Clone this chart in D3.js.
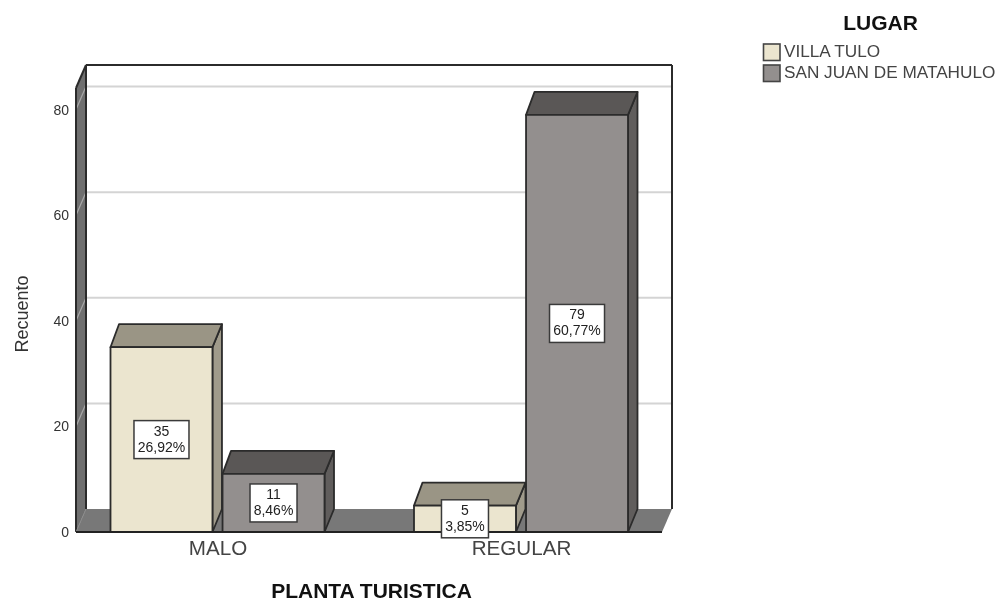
<!DOCTYPE html>
<html>
<head>
<meta charset="utf-8">
<script src="https://cdn.jsdelivr.net/npm/d3@7"></script>
<style>
html,body{margin:0;padding:0;background:#fff;}
svg{display:block;filter:blur(0.45px);}
text{font-family:"Liberation Sans",Arial,sans-serif;}
</style>
</head>
<body>
<svg id="chart" width="1000" height="601"></svg>
<script>
const categories = ["MALO", "REGULAR"];
const series = ["VILLA TULO", "SAN JUAN DE MATAHULO"];
const villaTulo = [35, 5];
const sanJuan = [11, 79];
const villaPct = ["26,92%", "3,85%"];
const sanPct = ["8,46%", "60,77%"];
const yTicks = [0, 20, 40, 60, 80];

const faceColors = ["#ebe5cf", "#938f8e"];
const topColors = ["#9a9585", "#5a5756"];
const sideColors = ["#a09b8b", "#605d5c"];
const line = "#2b2b2b";
const wallGray = "#787878";
const depthX = 10, depthY = 23;

const svg = d3.select("#chart");
const y = d3.scaleLinear().domain([0, 80]).range([532, 109.6]);
const x0 = d3.scalePoint().domain(categories).range([217.5, 521]);
const x1 = d3.scaleBand().domain(series).range([-107, 107]).paddingInner(0.09);

const left = 76, right = 662, top0 = 88;
const poly = (pts, fill, stroke, sw) => svg.append("polygon")
  .attr("points", pts.map(p => p.join(",")).join(" "))
  .attr("fill", fill).attr("stroke", stroke || "none").attr("stroke-width", sw || 0)
  .attr("stroke-linejoin", "round");

// back wall
poly([[left+depthX, top0-depthY],[right+depthX, top0-depthY],[right+depthX, y(0)-depthY],[left+depthX, y(0)-depthY]], "#fff");
// floor
poly([[left, y(0)],[left+depthX, y(0)-depthY],[right+depthX, y(0)-depthY],[right, y(0)]], wallGray);
// left wall
poly([[left, top0],[left+depthX, top0-depthY],[left+depthX, y(0)-depthY],[left, y(0)]], "#6f6f6f");

// gridlines on back wall and left wall
yTicks.filter(t => t > 0).forEach(t => {
  svg.append("line").attr("x1", left+depthX).attr("x2", right+depthX)
    .attr("y1", y(t)-depthY).attr("y2", y(t)-depthY)
    .attr("stroke", "#d4d4d4").attr("stroke-width", 2);
  svg.append("line").attr("x1", left).attr("x2", left+depthX)
    .attr("y1", y(t)).attr("y2", y(t)-depthY)
    .attr("stroke", "#a8a8a8").attr("stroke-width", 1.2);
});

// frame lines
const frame = (a, b, c, w) => svg.append("line").attr("x1", a[0]).attr("y1", a[1]).attr("x2", b[0]).attr("y2", b[1])
  .attr("stroke", c || line).attr("stroke-width", w || 2);
frame([left+depthX, top0-depthY], [right+depthX, top0-depthY]);
frame([right+depthX, top0-depthY], [right+depthX, y(0)-depthY]);
frame([left+depthX, top0-depthY], [left+depthX, y(0)-depthY]);
frame([left, top0], [left+depthX, top0-depthY]);
frame([left, top0], [left, y(0)]);
frame([left, y(0)], [left+depthX, y(0)-depthY], "#8a8a8a", 1);

// bars
const bars = [];
categories.forEach((c, i) => {
  bars.push({c, s: series[0], si: 0, v: villaTulo[i], p: villaPct[i]});
  bars.push({c, s: series[1], si: 1, v: sanJuan[i], p: sanPct[i]});
});
bars.forEach(d => {
  const xa = x0(d.c) + x1(d.s), xb = xa + x1.bandwidth();
  const yt = y(d.v), yb = y(0);
  poly([[xb, yb],[xb+depthX-0.5, yb-depthY],[xb+depthX-0.5, yt-depthY],[xb, yt]], sideColors[d.si], line, 1.8);
  poly([[xa, yt],[xa+depthX-1.5, yt-depthY],[xb+depthX-0.5, yt-depthY],[xb, yt]], topColors[d.si], line, 1.8);
  poly([[xa, yt],[xb, yt],[xb, yb],[xa, yb]], faceColors[d.si], line, 1.8);
});

// baseline
frame([left, y(0)], [right, y(0)], "#222", 2);

// value labels
bars.forEach(d => {
  const cx = x0(d.c) + x1(d.s) + x1.bandwidth()/2;
  const cy = (y(d.v) + y(0)) / 2;
  const w = d.p.length >= 6 ? 55 : 47;
  const g = svg.append("g");
  g.append("rect").attr("x", cx-w/2).attr("y", cy-19).attr("width", w).attr("height", 38)
    .attr("fill", "#fff").attr("stroke", "#3a3a3a").attr("stroke-width", 1.5);
  g.append("text").attr("x", cx).attr("y", cy-4).attr("text-anchor", "middle")
    .attr("font-size", 14).attr("fill", "#222").text(d.v);
  g.append("text").attr("x", cx).attr("y", cy+12).attr("text-anchor", "middle")
    .attr("font-size", 14).attr("fill", "#222").text(d.p);
});

// y tick labels
const yAxis = d3.axisLeft(y).tickValues(yTicks).tickSize(0).tickPadding(7).tickFormat(d3.format("d"));
const gy = svg.append("g").attr("transform", `translate(${left},0)`).call(yAxis);
gy.select(".domain").remove();
gy.selectAll("text").attr("font-size", 14).attr("fill", "#333").style("font-family", '"Liberation Sans",Arial,sans-serif');

// x tick labels
const xAxis = d3.axisBottom(x0).tickSize(0).tickPadding(8);
const gx = svg.append("g").attr("transform", `translate(0,${y(0)})`).call(xAxis);
gx.select(".domain").remove();
gx.selectAll("text").attr("font-size", 20.6).attr("fill", "#444").style("font-family", '"Liberation Sans",Arial,sans-serif');

// axis titles
svg.append("text").attr("x", 371.5).attr("y", 598).attr("text-anchor", "middle")
  .attr("font-size", 21).attr("font-weight", "bold").attr("fill", "#111").text("PLANTA TURISTICA");
svg.append("text").attr("transform", "translate(28,314) rotate(-90)").attr("text-anchor", "middle")
  .attr("font-size", 18).attr("fill", "#333").text("Recuento");

// legend
svg.append("text").attr("x", 880.5).attr("y", 30).attr("text-anchor", "middle")
  .attr("font-size", 21).attr("font-weight", "bold").attr("fill", "#111").text("LUGAR");
series.forEach((s, i) => {
  svg.append("rect").attr("x", 763.5).attr("y", 44 + i*21).attr("width", 16.5).attr("height", 16.5)
    .attr("fill", faceColors[i]).attr("stroke", "#444").attr("stroke-width", 1.6);
  svg.append("text").attr("x", 784).attr("y", 57 + i*21)
    .attr("font-size", 17.2).attr("fill", "#444").text(s);
});
</script>
</body>
</html>
